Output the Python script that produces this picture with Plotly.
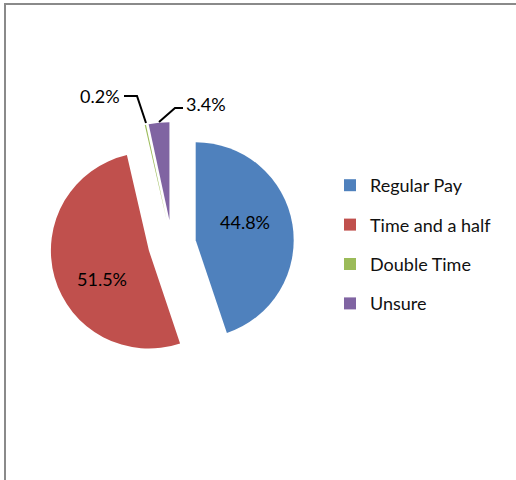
import plotly.graph_objects as go

# =========================
# DATA
# =========================

labels = ["Regular Pay", "Time and a half", "Double Time", "Unsure"]
values = [44.8, 51.5, 0.2, 3.4]
colors = ["#4F81BD", "#C0504D", "#9BBB59", "#8064A2"]

W, H = 516, 480


def px(x):
    return x / W


def py(y):
    return 1 - y / H


pct = [f"{v}%" for v in values]

# =========================
# PIE
# =========================

fig = go.Figure()

fig.add_trace(
    go.Pie(
        labels=labels,
        values=values,
        textinfo="none",
        sort=False,
        direction="clockwise",
        rotation=0,
        pull=0.245,
        marker=dict(colors=colors, line=dict(width=0)),
        domain=dict(x=[px(50), px(294)], y=[py(366), py(122)]),
        showlegend=False,
        hoverinfo="label+percent",
    )
)

# legend entries (pie legend can't be spaced out, so one marker trace per slice)
for lab, col in zip(labels, colors):
    fig.add_trace(
        go.Scatter(
            x=[None],
            y=[None],
            mode="markers",
            name=lab,
            legendgroup=lab,
            marker=dict(symbol="square", size=12, color=col),
            hoverinfo="skip",
        )
    )

# =========================
# DATA LABELS
# =========================

lab_font = dict(size=18, family="Lato", color="black")

# inside labels
fig.add_annotation(text=pct[0], x=px(245), y=py(222), xref="paper", yref="paper",
                   xanchor="center", yanchor="middle", showarrow=False, font=lab_font)
fig.add_annotation(text=pct[1], x=px(102), y=py(279), xref="paper", yref="paper",
                   xanchor="center", yanchor="middle", showarrow=False, font=lab_font)

# outside labels with leader lines
fig.add_annotation(
    text=pct[2], x=px(122), y=py(96), xref="paper", yref="paper",
    xanchor="right", yanchor="middle", showarrow=False, font=lab_font,
)
fig.add_annotation(
    text=pct[3], x=px(184), y=py(104), xref="paper", yref="paper",
    xanchor="left", yanchor="middle", showarrow=False, font=lab_font,
)

leaders = [
    [(124, 96), (137, 96), (146, 123)],
    [(159, 122), (175, 108), (183, 108)],
]
for pts in leaders:
    path = "M " + " L ".join(f"{px(x)},{py(y)}" for x, y in pts)
    fig.add_shape(type="path", path=path, xref="paper", yref="paper",
                  line=dict(color="black", width=2))

# chart frame (cropped on right and bottom)
fig.add_shape(type="rect", x0=px(5), y0=py(700), x1=px(800), y1=py(4),
              xref="paper", yref="paper",
              line=dict(color="#8a8a8a", width=2))

# =========================
# LAYOUT
# =========================

fig.update_xaxes(visible=False)
fig.update_yaxes(visible=False)

fig.update_layout(
    width=W,
    height=H,
    margin=dict(l=0, r=0, t=0, b=0),
    paper_bgcolor="white",
    plot_bgcolor="white",
    font=dict(family="Lato", color="black"),
    showlegend=True,
    legend=dict(
        x=px(330),
        y=py(167),
        xanchor="left",
        yanchor="top",
        font=dict(size=18, family="Lato", color="#111"),
        tracegroupgap=13,
        bgcolor="rgba(0,0,0,0)",
    ),
)

# drop the default 8px body margin so the figure fills the window
fig.write_html(
    "out.html",
    config={"displayModeBar": False},
    post_script="document.body.style.margin = '0px';",
)
